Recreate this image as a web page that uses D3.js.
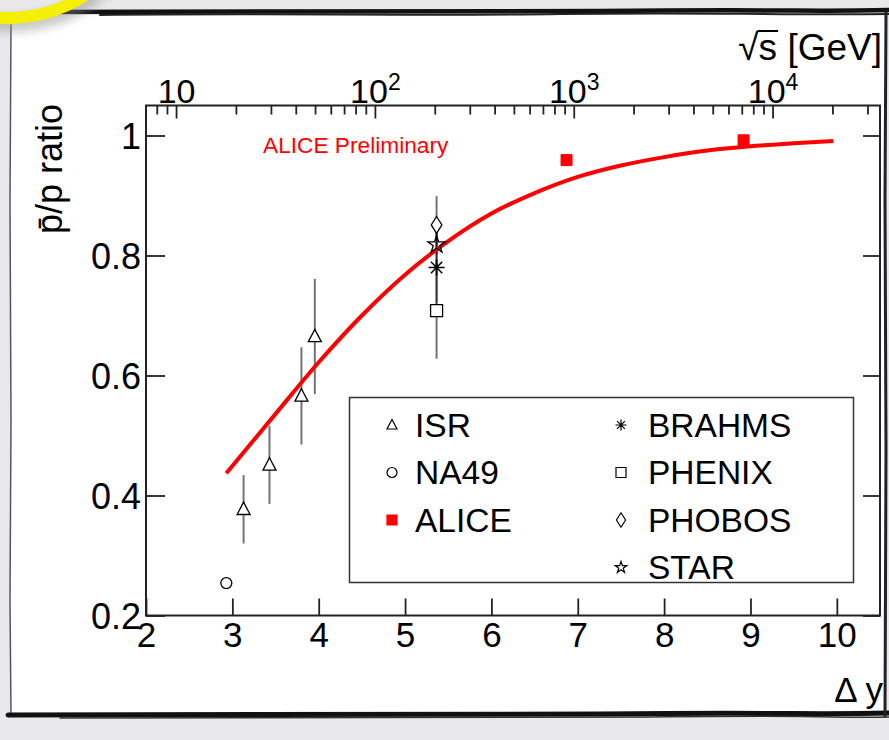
<!DOCTYPE html>
<html>
<head>
<meta charset="utf-8">
<script src="https://cdn.jsdelivr.net/npm/d3@7"></script>
<style>
  html, body { margin: 0; padding: 0; background: #e9e9eb; }
  svg { display: block; }
  text { font-family: "Liberation Sans", Arial, Helvetica, sans-serif; }
</style>
</head>
<body>
<div id="chart"></div>
<script>
// p-bar/p ratio vs rapidity gap

// ISR (open triangles)
const isrDy = [3.13, 3.43, 3.80, 3.955];
const isrRatio = [0.377, 0.451, 0.566, 0.665];
const isrErr = [0.057, 0.065, 0.081, 0.096];

// NA49 (open circle)
const na49Dy = [2.93];
const na49Ratio = [0.254];
const na49Err = [0.004];

// ALICE (red filled squares)
const aliceDy = [6.87, 8.92];
const aliceRatio = [0.959, 0.992];
const aliceErr = [0.009, 0.009];

// RHIC experiments, all at the same Δy
const brahmsDy = [5.365];
const brahmsRatio = [0.780];
const brahmsErr = [0.06];

const phenixDy = [5.365];
const phenixRatio = [0.708];
const phenixErr = [0.08];

const phobosDy = [5.365];
const phobosRatio = [0.851];
const phobosErr = [0.048];

const starDy = [5.365];
const starRatio = [0.818];
const starErr = [0.04];

// red fit curve
const fitDy = [2.93, 3.5, 4.0, 4.5, 5.0, 5.5, 6.0, 6.5, 7.0, 7.5, 8.0, 8.5, 9.0, 9.5, 9.96];
const fitRatio = [0.437, 0.536, 0.622, 0.700, 0.768, 0.824, 0.870, 0.904, 0.931, 0.950, 0.964, 0.975, 0.982, 0.987, 0.991];

// tick labels
const xTicks = [2, 3, 4, 5, 6, 7, 8, 9, 10];
const yTicks = [0.2, 0.4, 0.6, 0.8, 1];
const sqrtsMajor = [10, 100, 1000, 10000];
const sqrtsExp = ["", "2", "3", "4"];

const width = 889;
const height = 740;

const svg = d3.select("#chart").append("svg")
    .attr("width", width)
    .attr("height", height);

// slide background + hand drawn frame
svg.append("rect")
    .attr("width", width).attr("height", height)
    .attr("fill", "#e9e9eb");

svg.append("rect")
    .attr("x", 10).attr("y", 13)
    .attr("width", 876).attr("height", 702)
    .attr("fill", "#ffffff");

const frame = svg.append("g").attr("fill", "none").attr("stroke-linecap", "round");
// top edge, thick brush strokes
frame.append("path")
    .attr("d", "M40,12 C200,10 400,13 600,11 S800,12 889,10")
    .attr("stroke", "#111").attr("stroke-width", 4.5);
frame.append("path")
    .attr("d", "M100,15 C260,13 420,16 560,14 S760,15 889,14")
    .attr("stroke", "#222").attr("stroke-width", 2);
// left edge, thin
frame.append("path")
    .attr("d", "M11,25 L10,200 L11,420 L10,600 L11,716")
    .attr("stroke", "#555").attr("stroke-width", 1.5);
// bottom edge
frame.append("path")
    .attr("d", "M8,715 C200,713 400,716 600,714 S800,715 889,713")
    .attr("stroke", "#111").attr("stroke-width", 5);
frame.append("path")
    .attr("d", "M60,718 C250,717 450,719 650,717 S820,718 889,717")
    .attr("stroke", "#333").attr("stroke-width", 1.5);
// right edge
frame.append("path")
    .attr("d", "M886,12 L885,200 L886,450 L885,716")
    .attr("stroke", "#222").attr("stroke-width", 3);

// yellow circle remnant in the corner
const defs = svg.append("defs");
defs.append("filter").attr("id", "blur")
    .append("feGaussianBlur").attr("stdDeviation", 5);
svg.append("ellipse")
    .attr("cx", 7).attr("cy", -51).attr("rx", 112).attr("ry", 75)
    .attr("fill", "none").attr("stroke", "#888").attr("stroke-width", 16)
    .attr("opacity", 0.45).attr("filter", "url(#blur)");
svg.append("ellipse")
    .attr("cx", 5).attr("cy", -55).attr("rx", 110).attr("ry", 73)
    .attr("fill", "none").attr("stroke", "#f5f000").attr("stroke-width", 12);

// scales
const plotLeft = 146, plotRight = 880, plotTop = 105.5, plotBottom = 615.5;
const x = d3.scaleLinear().domain([2, 10.5]).range([plotLeft, plotRight]);
const y = d3.scaleLinear().domain([0.2, 1.05]).range([plotBottom, plotTop]);
const mp = 0.95;
const xTop = d3.scaleLog().domain([mp * Math.exp(2), mp * Math.exp(10.5)]).range([plotLeft, plotRight]);

const axisColor = "#222";

// frame box
svg.append("rect")
    .attr("x", plotLeft).attr("y", plotTop)
    .attr("width", plotRight - plotLeft).attr("height", plotBottom - plotTop)
    .attr("fill", "none").attr("stroke", axisColor).attr("stroke-width", 2);

// bottom axis
const bottomAxis = d3.axisBottom(x).tickValues(xTicks).tickSize(-17).tickPadding(7).tickFormat(d3.format("d"));
const gB = svg.append("g").attr("transform", `translate(0,${plotBottom})`).call(bottomAxis);
// left axis
const leftAxis = d3.axisLeft(y).tickValues(yTicks).tickSize(-19).tickPadding(5).tickFormat(d => d === 1 ? "1" : d3.format(".1f")(d));
const gL = svg.append("g").attr("transform", `translate(${plotLeft},0)`).call(leftAxis);
// right axis (ticks only)
const rightAxis = d3.axisRight(y).tickValues(yTicks).tickSize(-17).tickFormat("");
const gR = svg.append("g").attr("transform", `translate(${plotRight},0)`).call(rightAxis);

[gB, gL, gR].forEach(g => {
    g.select(".domain").remove();
    g.selectAll(".tick line").attr("stroke", axisColor).attr("stroke-width", 1.8);
    g.selectAll(".tick text")
        .attr("fill", "#000")
        .style("font-family", "'Liberation Sans', Arial, sans-serif")
        .style("font-size", "35px");
});
gB.selectAll(".tick text").attr("dy", "0.71em");
gL.selectAll(".tick text").attr("dy", "0.35em").style("font-size", "36px");

// top axis: sqrt(s), log, ticks pointing inward
const [sMin, sMax] = xTop.domain();
const minorTop = [];
for (let dec = 1; dec <= 10000; dec *= 10) {
    for (let k = 2; k <= 9; k++) {
        const v = k * dec;
        if (v > sMin && v < sMax) minorTop.push(v);
    }
}
const gT = svg.append("g");
gT.selectAll("line.minor").data(minorTop).join("line")
    .attr("class", "minor")
    .attr("x1", d => xTop(d)).attr("x2", d => xTop(d))
    .attr("y1", plotTop).attr("y2", plotTop + 9)
    .attr("stroke", axisColor).attr("stroke-width", 1.8);
gT.selectAll("line.major").data(sqrtsMajor).join("line")
    .attr("class", "major")
    .attr("x1", d => xTop(d)).attr("x2", d => xTop(d))
    .attr("y1", plotTop).attr("y2", plotTop + 13)
    .attr("stroke", axisColor).attr("stroke-width", 1.8);
const topLabels = gT.selectAll("text.lab").data(sqrtsMajor).join("text")
    .attr("class", "lab")
    .attr("x", d => xTop(d))
    .attr("y", plotTop - 3)
    .attr("text-anchor", "middle")
    .style("font-size", "34px");
topLabels.append("tspan").text("10");
topLabels.append("tspan")
    .attr("dy", -13)
    .style("font-size", "23px")
    .text((d, i) => sqrtsExp[i]);

// axis titles
const sqrtTitle = svg.append("text")
    .attr("x", 882).attr("y", 60)
    .attr("text-anchor", "end")
    .style("font-size", "37px")
    .text("\u221As [GeV]");
// radical bar over the s
const tNode = sqrtTitle.node();
const sStart = tNode.getStartPositionOfChar(1);
const sEnd = tNode.getEndPositionOfChar(1);
svg.append("line")
    .attr("x1", sStart.x - 1).attr("x2", sEnd.x + 1)
    .attr("y1", 31).attr("y2", 31)
    .attr("stroke", "#000").attr("stroke-width", 2);

svg.append("text")
    .attr("x", 883).attr("y", 702)
    .attr("text-anchor", "end")
    .style("font-size", "35px")
    .text("\u0394 y");

svg.append("text")
    .attr("transform", "translate(62,104) rotate(-90)")
    .attr("text-anchor", "end")
    .style("font-size", "36px")
    .text("p\u0304/p ratio");

svg.append("text")
    .attr("x", 263).attr("y", 153)
    .attr("fill", "#ff0000")
    .style("font-size", "22.7px")
    .text("ALICE Preliminary");

// marker shapes (centered at 0,0), s = size in px
const shapes = {
    triangle: s => `M0,${-s * 0.55}L${s / 2},${s * 0.4}L${-s / 2},${s * 0.4}Z`,
    circle: s => d3.symbol(d3.symbolCircle, Math.PI * (s / 2) * (s / 2))(),
    square: s => `M${-s / 2},${-s / 2}h${s}v${s}h${-s}Z`,
    diamond: s => `M0,${-s * 0.6}L${s * 0.38},0L0,${s * 0.6}L${-s * 0.38},0Z`,
    star: s => d3.symbol(d3.symbolStar, s * s * 0.42)(),
    asterisk: s => {
        const r = s / 2, q = r * 0.7071;
        return `M0,${-r}V${r}M${-r},0H${r}M${-q},${-q}L${q},${q}M${-q},${q}L${q},${-q}`;
    }
};

const plot = svg.append("g");

function drawSeries(dy, ratio, err, opts) {
    const data = dy.map((d, i) => ({ x: d, y: ratio[i], e: err[i] }));
    plot.append("g").selectAll("line").data(data).join("line")
        .attr("x1", d => x(d.x)).attr("x2", d => x(d.x))
        .attr("y1", d => y(d.y + d.e)).attr("y2", d => y(d.y - d.e))
        .attr("stroke", opts.errColor).attr("stroke-width", opts.errWidth)
        .attr("stroke-opacity", opts.errOpacity);
    return data;
}
function drawMarkers(data, shape, size, opts) {
    plot.append("g").selectAll("path").data(data).join("path")
        .attr("transform", d => `translate(${x(d.x)},${y(d.y)})`)
        .attr("d", shapes[shape](size))
        .attr("fill", opts.fill)
        .attr("stroke", opts.stroke)
        .attr("stroke-width", opts.strokeWidth);
}

const errGray = { errColor: "#000", errWidth: 2, errOpacity: 0.55 };
const errRed = { errColor: "#ff0000", errWidth: 2, errOpacity: 1 };

const isrData = drawSeries(isrDy, isrRatio, isrErr, errGray);
const na49Data = drawSeries(na49Dy, na49Ratio, na49Err, errGray);
const phenixData = drawSeries(phenixDy, phenixRatio, phenixErr, errGray);
const phobosData = drawSeries(phobosDy, phobosRatio, phobosErr, errGray);
const brahmsData = drawSeries(brahmsDy, brahmsRatio, brahmsErr, errGray);
const starData = drawSeries(starDy, starRatio, starErr, errGray);
const aliceData = drawSeries(aliceDy, aliceRatio, aliceErr, errRed);

// fit curve
const fitData = fitDy.map((d, i) => ({ x: d, y: fitRatio[i] }));
plot.append("path")
    .datum(fitData)
    .attr("d", d3.line().x(d => x(d.x)).y(d => y(d.y)).curve(d3.curveMonotoneX))
    .attr("fill", "none")
    .attr("stroke", "#ff0000")
    .attr("stroke-width", 4);

const openMarker = { fill: "#fff", stroke: "#000", strokeWidth: 1.3 };
drawMarkers(isrData, "triangle", 13, openMarker);
drawMarkers(na49Data, "circle", 11, openMarker);
drawMarkers(phenixData, "square", 12, openMarker);
drawMarkers(phobosData, "diamond", 14, openMarker);
drawMarkers(starData, "star", 15, { fill: "none", stroke: "#000", strokeWidth: 1.3 });
drawMarkers(brahmsData, "asterisk", 16, { fill: "none", stroke: "#000", strokeWidth: 1.5 });
drawMarkers(aliceData, "square", 11, { fill: "#ff0000", stroke: "#ff0000", strokeWidth: 1 });

// legend
const legendNames = ["ISR", "NA49", "ALICE", "BRAHMS", "PHENIX", "PHOBOS", "STAR"];
const legendShapes = ["triangle", "circle", "square", "asterisk", "square", "diamond", "star"];
const legendCols = [0, 0, 0, 1, 1, 1, 1];
const legendRows = [0, 1, 2, 0, 1, 2, 3];

const legend = svg.append("g");
legend.append("rect")
    .attr("x", 349.5).attr("y", 397.5)
    .attr("width", 504).attr("height", 185)
    .attr("fill", "#fff").attr("stroke", "#333").attr("stroke-width", 1.5);

const colMarkerX = [392, 621];
const colTextX = [415, 648];
legendNames.forEach((name, i) => {
    const cy = 425 + legendRows[i] * 47.5;
    const shape = legendShapes[i];
    const isAlice = name === "ALICE";
    const sz = shape === "asterisk" ? 11 : shape === "diamond" ? 12 : 10;
    legend.append("path")
        .attr("transform", `translate(${colMarkerX[legendCols[i]]},${cy})`)
        .attr("d", shapes[shape](sz))
        .attr("fill", isAlice ? "#ff0000" : (shape === "asterisk" || shape === "star" ? "none" : "#fff"))
        .attr("stroke", isAlice ? "#ff0000" : "#000")
        .attr("stroke-width", 1.2);
    legend.append("text")
        .attr("x", colTextX[legendCols[i]])
        .attr("y", cy + 11.5)
        .style("font-size", "33.5px")
        .text(name);
});
</script>
</body>
</html>
